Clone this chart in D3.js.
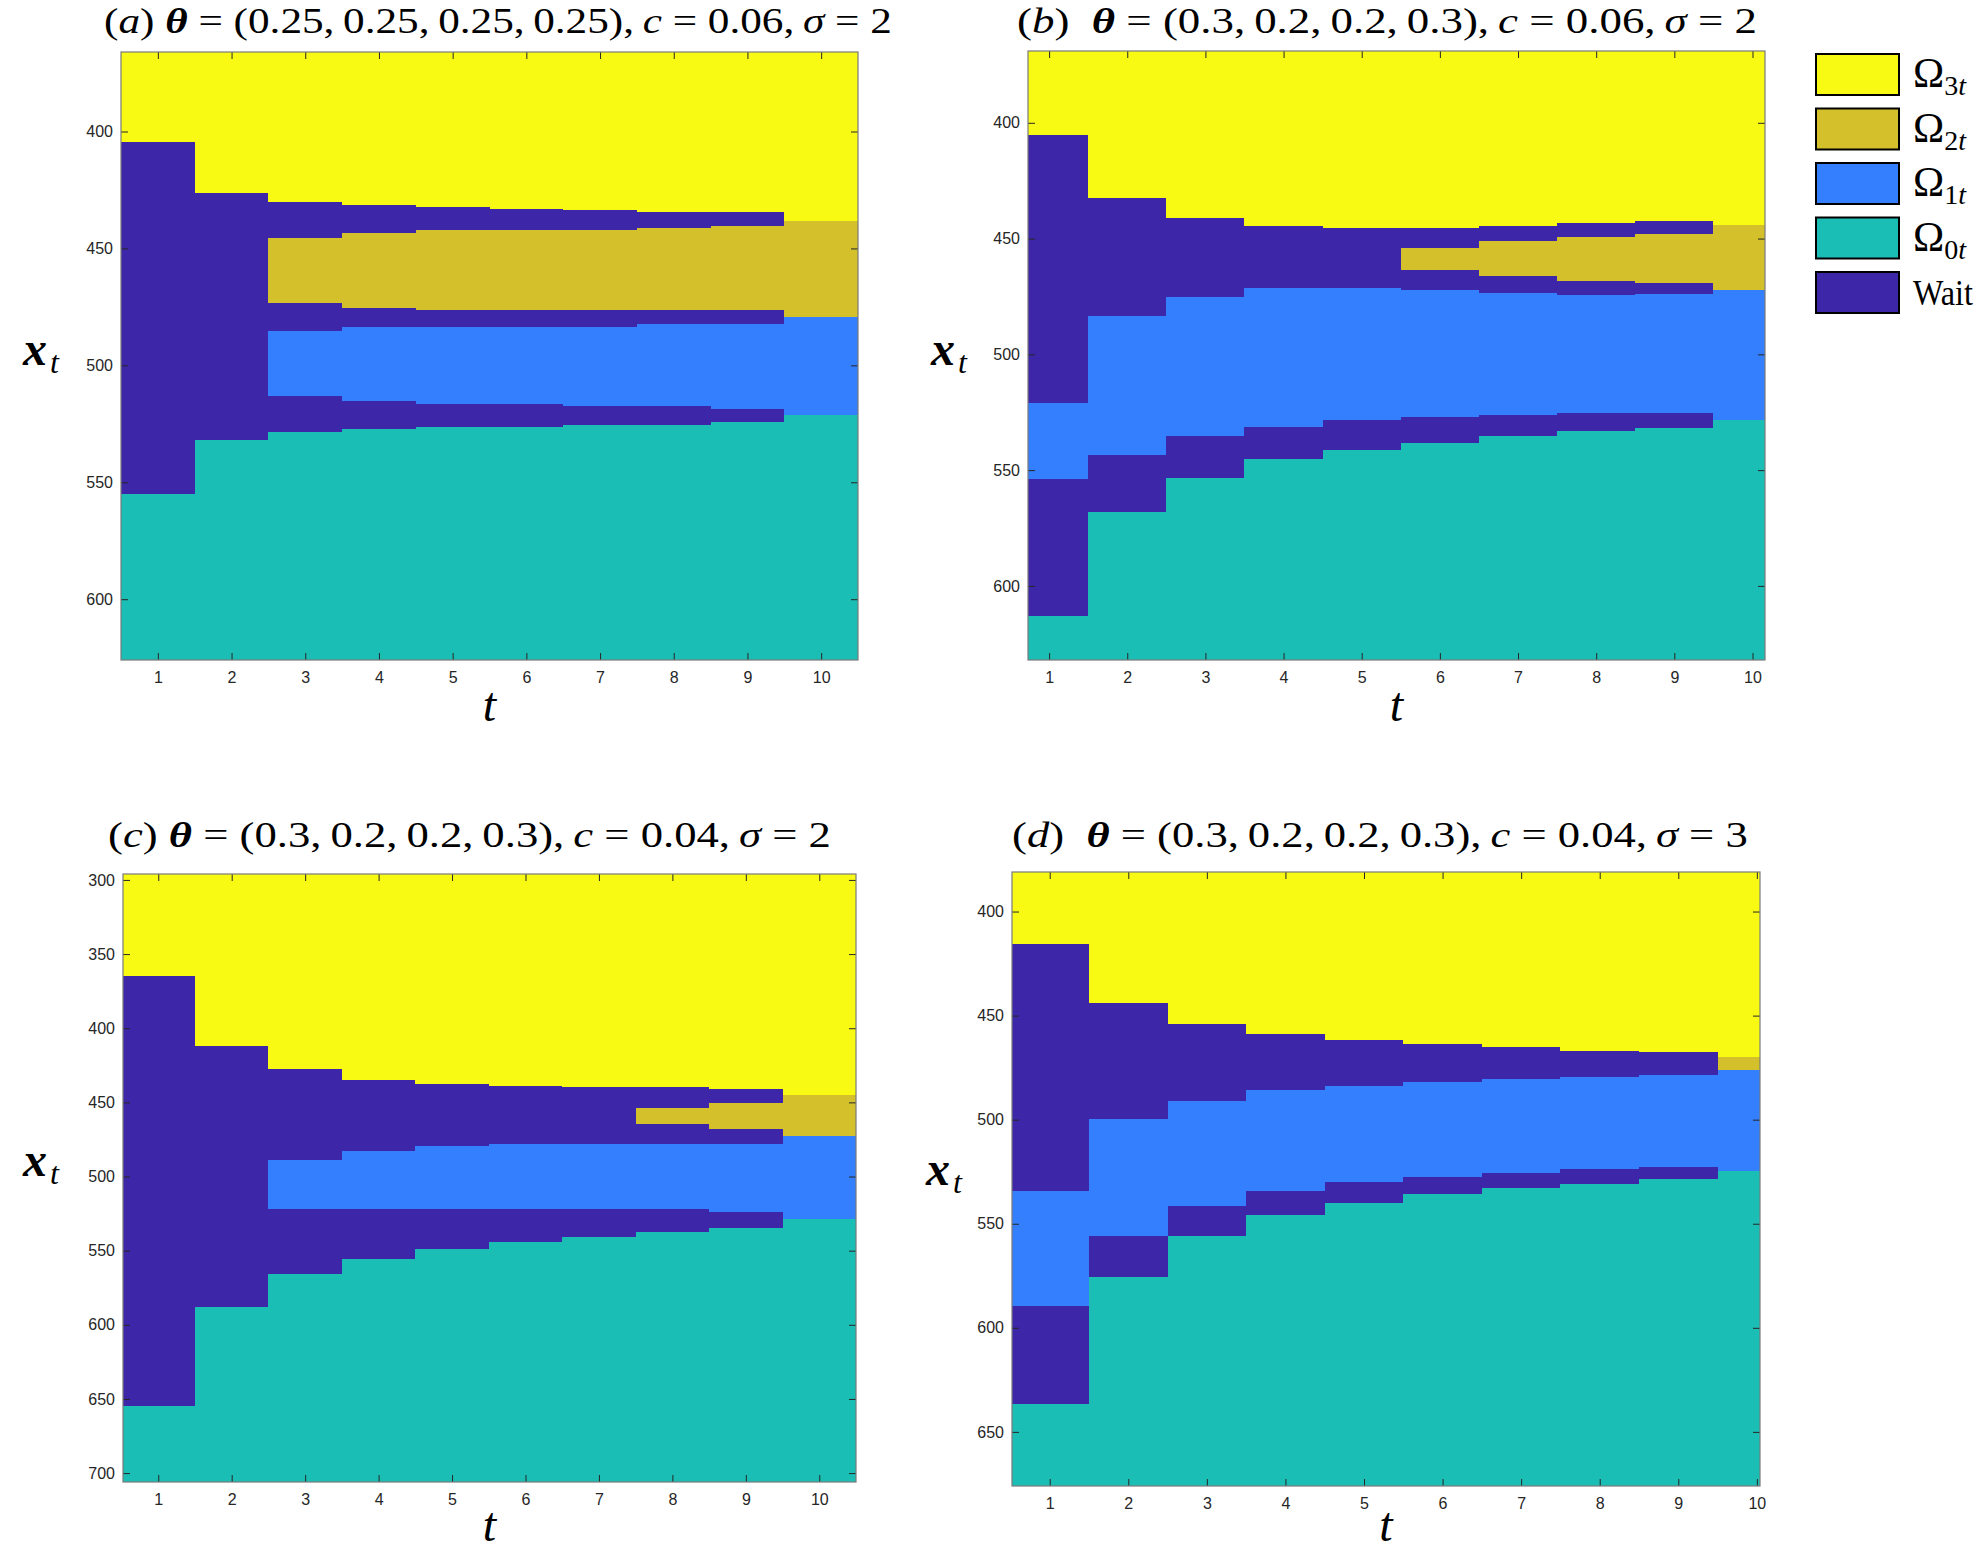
<!DOCTYPE html>
<html><head><meta charset="utf-8">
<script src="https://cdn.jsdelivr.net/npm/d3@7"></script>
<style>body{margin:0;background:#fff;} svg{display:block;}</style>
</head><body>
<svg id="chart" width="1982" height="1568"></svg>
<script>
// ---------- data ----------
const timeSteps = [1, 2, 3, 4, 5, 6, 7, 8, 9, 10];
const regionNames = ["Ω3t", "Ω2t", "Ω1t", "Ω0t", "Wait"];
const regionColors = ["#f9fa14", "#d3c02a", "#337ffd", "#1abeb5", "#3d27a8"];
const panelLetters = ["a", "b", "c", "d"];
const thetaTexts = ["(0.25,\u20090.25,\u20090.25,\u20090.25)", "(0.3,\u20090.2,\u20090.2,\u20090.3)", "(0.3,\u20090.2,\u20090.2,\u20090.3)", "(0.3,\u20090.2,\u20090.2,\u20090.3)"];
const costTexts = ["0.06", "0.06", "0.04", "0.04"];
const sigmaTexts = ["2", "2", "2", "3"];
const xTickValues = [1, 2, 3, 4, 5, 6, 7, 8, 9, 10];
const yTicksA = [400, 450, 500, 550, 600];
const yTicksB = [400, 450, 500, 550, 600];
const yTicksC = [300, 350, 400, 450, 500, 550, 600, 650, 700];
const yTicksD = [400, 450, 500, 550, 600, 650];

// Boundaries (x_t values) per period, top to bottom:
// Ω3 end | Ω2 start | Ω2 end | Ω1 start | Ω1 end | Ω0 start (gaps between are "Wait")
const aOmega3End = [404.3, 426.1, 430.3, 431.4, 432.4, 433.2, 433.4, 434.4, 434.4, 438.1];
const aOmega2Start = [555.2, 532.0, 445.4, 443.2, 442.0, 442.0, 442.0, 441.3, 440.5, 438.1];
const aOmega2End = [555.2, 532.0, 473.3, 475.4, 476.4, 476.4, 476.4, 476.4, 476.4, 479.4];
const aOmega1Start = [555.2, 532.0, 485.3, 483.5, 483.5, 483.5, 483.5, 482.5, 482.5, 479.4];
const aOmega1End = [555.2, 532.0, 513.2, 515.1, 516.5, 516.5, 517.5, 517.5, 518.7, 521.4];
const aOmega0Start = [555.2, 532.0, 528.3, 527.3, 526.5, 526.5, 525.5, 525.5, 524.2, 521.4];

const bOmega3End = [405.4, 432.3, 441.2, 444.4, 445.4, 445.4, 444.4, 443.4, 442.2, 444.2];
const bOmega2Start = [521.1, 483.3, 475.1, 471.2, 471.2, 454.1, 451.1, 449.2, 448.2, 444.2];
const bOmega2End = [521.1, 483.3, 475.1, 471.2, 471.2, 463.4, 466.2, 468.4, 469.0, 472.3];
const bOmega1Start = [521.1, 483.3, 475.1, 471.2, 471.2, 472.3, 473.3, 474.3, 473.9, 472.3];
const bOmega1End = [554.0, 543.3, 535.4, 531.4, 528.2, 527.1, 526.3, 525.5, 525.5, 528.2];
const bOmega0Start = [613.1, 568.1, 553.4, 545.3, 541.3, 538.2, 535.4, 533.2, 532.0, 528.2];

const cOmega3End = [364.8, 411.9, 427.3, 434.7, 437.7, 439.0, 439.7, 439.7, 441.0, 445.0];
const cOmega2Start = [654.9, 588.1, 488.8, 482.8, 479.1, 478.4, 478.4, 453.7, 450.7, 445.0];
const cOmega2End = [654.9, 588.1, 488.8, 482.8, 479.1, 478.4, 478.4, 464.4, 467.8, 472.4];
const cOmega1Start = [654.9, 588.1, 488.8, 482.8, 479.1, 478.4, 478.4, 478.4, 477.8, 472.4];
const cOmega1End = [654.9, 588.1, 521.9, 521.9, 521.6, 521.6, 521.6, 522.2, 523.9, 528.6];
const cOmega0Start = [654.9, 588.1, 565.7, 555.3, 548.6, 544.3, 540.6, 537.3, 534.6, 528.6];

const dOmega3End = [415.7, 443.7, 453.9, 458.7, 461.5, 463.5, 464.9, 466.8, 467.7, 469.7];
const dOmega2Start = [534.5, 499.5, 490.9, 485.6, 483.7, 481.8, 480.6, 479.7, 478.7, 469.7];
const dOmega2End = [534.5, 499.5, 490.9, 485.6, 483.7, 481.8, 480.6, 479.7, 478.7, 476.3];
const dOmega1Start = [534.5, 499.5, 490.9, 485.6, 483.7, 481.8, 480.6, 479.7, 478.7, 476.3];
const dOmega1End = [589.4, 555.8, 541.7, 534.5, 529.8, 527.4, 525.5, 523.6, 522.6, 524.5];
const dOmega0Start = [636.4, 575.6, 555.8, 545.8, 539.8, 535.5, 532.6, 530.7, 528.3, 524.5];

// ---------- layout ----------
const panels = [
  {letter: panelLetters[0], theta: thetaTexts[0], c: costTexts[0], s: sigmaTexts[0],
   x0: 121, x1: 858, y0: 52, y1: 660, xDom: [0.5, 10.5], yDom: [366, 626], yTicks: yTicksA,
   bounds: [aOmega3End, aOmega2Start, aOmega2End, aOmega1Start, aOmega1End, aOmega0Start],
   title: {x0: 104, x1: 892, y: 33, gap: "\u00a0"}, ylab: {x: 23, y: 365}, xlabY: 721},
  {letter: panelLetters[1], theta: thetaTexts[1], c: costTexts[1], s: sigmaTexts[1],
   x0: 1028, x1: 1765, y0: 51, y1: 660, xDom: [0.73, 10.16], yDom: [369, 632], yTicks: yTicksB,
   bounds: [bOmega3End, bOmega2Start, bOmega2End, bOmega1Start, bOmega1End, bOmega0Start],
   title: {x0: 1017, x1: 1757, y: 33, gap: "\u00a0\u00a0"}, ylab: {x: 931, y: 365}, xlabY: 721},
  {letter: panelLetters[2], theta: thetaTexts[2], c: costTexts[2], s: sigmaTexts[2],
   x0: 123, x1: 856, y0: 874, y1: 1482, xDom: [0.52, 10.5], yDom: [296, 706], yTicks: yTicksC,
   bounds: [cOmega3End, cOmega2Start, cOmega2End, cOmega1Start, cOmega1End, cOmega0Start],
   title: {x0: 108, x1: 831, y: 847, gap: "\u00a0"}, ylab: {x: 23, y: 1176}, xlabY: 1541},
  {letter: panelLetters[3], theta: thetaTexts[3], c: costTexts[3], s: sigmaTexts[3],
   x0: 1012, x1: 1760, y0: 872, y1: 1486, xDom: [0.52, 10.04], yDom: [381, 676], yTicks: yTicksD,
   bounds: [dOmega3End, dOmega2Start, dOmega2End, dOmega1Start, dOmega1End, dOmega0Start],
   title: {x0: 1012, x1: 1748, y: 847, gap: "\u00a0\u00a0"}, ylab: {x: 926, y: 1185}, xlabY: 1541}
];

const svg = d3.select("#chart");
const serif = "'Liberation Serif', 'DejaVu Serif', serif";
const sans = "'Liberation Sans', Arial, Helvetica, sans-serif";
const axisColor = "#262626";
// order of stacked segments: Ω3, Wait, Ω2, Wait, Ω1, Wait, Ω0
const segColorIdx = [0, 4, 1, 4, 2, 4, 3];

panels.forEach(p => {
  const x = d3.scaleLinear().domain(p.xDom).range([p.x0, p.x1]).clamp(true);
  const y = d3.scaleLinear().domain(p.yDom).range([p.y0, p.y1]).clamp(true);
  const g = svg.append("g");

  const cells = [];
  timeSteps.forEach((t, i) => {
    const edges = [p.yDom[0], ...p.bounds.map(b => b[i]), p.yDom[1]];
    for (let k = 0; k < 7; k++) {
      if (edges[k + 1] > edges[k]) {
        cells.push({t, lo: edges[k], hi: edges[k + 1], color: regionColors[segColorIdx[k]]});
      }
    }
  });
  g.selectAll("rect.cell").data(cells).join("rect")
    .attr("class", "cell")
    .attr("x", d => x(d.t - 0.5))
    .attr("width", d => x(d.t + 0.5) - x(d.t - 0.5))
    .attr("y", d => y(d.lo))
    .attr("height", d => y(d.hi) - y(d.lo))
    .attr("fill", d => d.color)
    .attr("shape-rendering", "crispEdges");

  // axes with inward ticks on all four sides
  const tick = 7;
  const styleAxis = sel => {
    sel.select(".domain").remove();
    sel.selectAll("line").attr("stroke", axisColor).attr("stroke-width", 1);
    sel.selectAll("text").attr("fill", axisColor).attr("font-family", sans).attr("font-size", 16);
  };
  g.append("g").attr("transform", `translate(0,${p.y1})`)
    .call(d3.axisBottom(x).tickValues(xTickValues).tickSizeInner(-tick).tickSizeOuter(0).tickPadding(12).tickFormat(d3.format("d")))
    .call(styleAxis);
  g.append("g").attr("transform", `translate(0,${p.y0})`)
    .call(d3.axisTop(x).tickValues(xTickValues).tickSizeInner(-tick).tickSizeOuter(0).tickFormat(""))
    .call(styleAxis);
  g.append("g").attr("transform", `translate(${p.x0},0)`)
    .call(d3.axisLeft(y).tickValues(p.yTicks).tickSizeInner(-tick).tickSizeOuter(0).tickPadding(8).tickFormat(d3.format("d")))
    .call(styleAxis);
  g.append("g").attr("transform", `translate(${p.x1},0)`)
    .call(d3.axisRight(y).tickValues(p.yTicks).tickSizeInner(-tick).tickSizeOuter(0).tickFormat(""))
    .call(styleAxis);
  g.append("rect")
    .attr("x", p.x0).attr("y", p.y0).attr("width", p.x1 - p.x0).attr("height", p.y1 - p.y0)
    .attr("fill", "none").attr("stroke", "#7a7a7a").attr("stroke-width", 1.2);

  // title
  const title = svg.append("text")
    .attr("x", p.title.x0).attr("y", p.title.y)
    .attr("font-family", serif).attr("font-size", 36).attr("fill", "#000");
  title.append("tspan").text("(");
  title.append("tspan").attr("font-style", "italic").text(p.letter);
  title.append("tspan").text(")" + p.title.gap);
  title.append("tspan").attr("font-style", "italic").attr("font-weight", "bold").text("θ");
  title.append("tspan").text(" = " + p.theta + ",\u2009");
  title.append("tspan").attr("font-style", "italic").text("c");
  title.append("tspan").text(" = " + p.c + ",\u2009");
  title.append("tspan").attr("font-style", "italic").text("σ");
  title.append("tspan").text(" = " + p.s);
  const w = title.node().getComputedTextLength();
  const sx = (p.title.x1 - p.title.x0) / w;
  title.attr("transform", `translate(${p.title.x0},0) scale(${sx},1) translate(${-p.title.x0},0)`);

  // x label
  svg.append("text")
    .attr("x", (p.x0 + p.x1) / 2).attr("y", p.xlabY)
    .attr("text-anchor", "middle")
    .attr("font-family", serif).attr("font-style", "italic").attr("font-size", 48)
    .text("t");

  // y label
  const yl = svg.append("text")
    .attr("x", p.ylab.x).attr("y", p.ylab.y)
    .attr("font-family", serif).attr("font-size", 48);
  yl.append("tspan").attr("font-weight", "bold").attr("font-style", "italic").text("x");
  yl.append("tspan").attr("font-style", "italic").attr("font-size", 32).attr("dy", 8).attr("dx", 3).text("t");
});

// ---------- legend ----------
const legendTop = 54, legendStep = 54.5, legendX = 1816, boxW = 83, boxH = 41;
const legend = svg.append("g");
regionNames.forEach((name, i) => {
  const ty = legendTop + i * legendStep;
  legend.append("rect")
    .attr("x", legendX).attr("y", ty).attr("width", boxW).attr("height", boxH)
    .attr("fill", regionColors[i]).attr("stroke", "#000").attr("stroke-width", 2);
  const txt = legend.append("text")
    .attr("x", 1913).attr("y", ty + 33)
    .attr("font-family", serif).attr("font-size", 42).attr("fill", "#000");
  if (name === "Wait") {
    txt.attr("font-size", 36).attr("textLength", 60).attr("lengthAdjust", "spacingAndGlyphs").text(name);
  } else {
    txt.append("tspan").text(name[0]);
    txt.append("tspan").attr("font-size", 28).attr("dy", 8).text(name[1]);
    txt.append("tspan").attr("font-size", 28).attr("font-style", "italic").text(name[2]);
  }
});
</script>
</body></html>
